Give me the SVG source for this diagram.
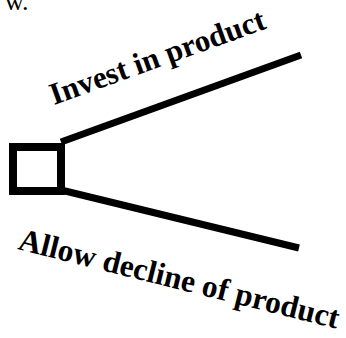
<svg xmlns="http://www.w3.org/2000/svg" width="346" height="338" viewBox="0 0 346 338">
<style>
.lbl{font-family:"Liberation Serif","Times New Roman",serif;font-weight:bold;font-size:31px;fill:#000}
.edge{stroke:#000;stroke-width:7;fill:none}
</style>
<rect width="346" height="338" fill="#fff"/>
<text x="5" y="10" font-family="Liberation Serif, serif" font-size="26" fill="#000">w.</text>
<g id="connectors">
<line class="edge" x1="61" y1="142" x2="301" y2="55"/>
<line class="edge" x1="61" y1="190" x2="299" y2="248"/>
</g>
<g id="decision">
<rect x="13" y="147" width="48" height="44" fill="none" stroke="#000" stroke-width="8"/>
</g>
<g id="label-invest">
<text class="lbl" transform="translate(54,105) rotate(-19.8)">Invest in product</text>
</g>
<g id="label-allow">
<text class="lbl" style="font-size:31.5px" transform="translate(17,249) rotate(14)">Allow decline of product</text>
</g>
</svg>
